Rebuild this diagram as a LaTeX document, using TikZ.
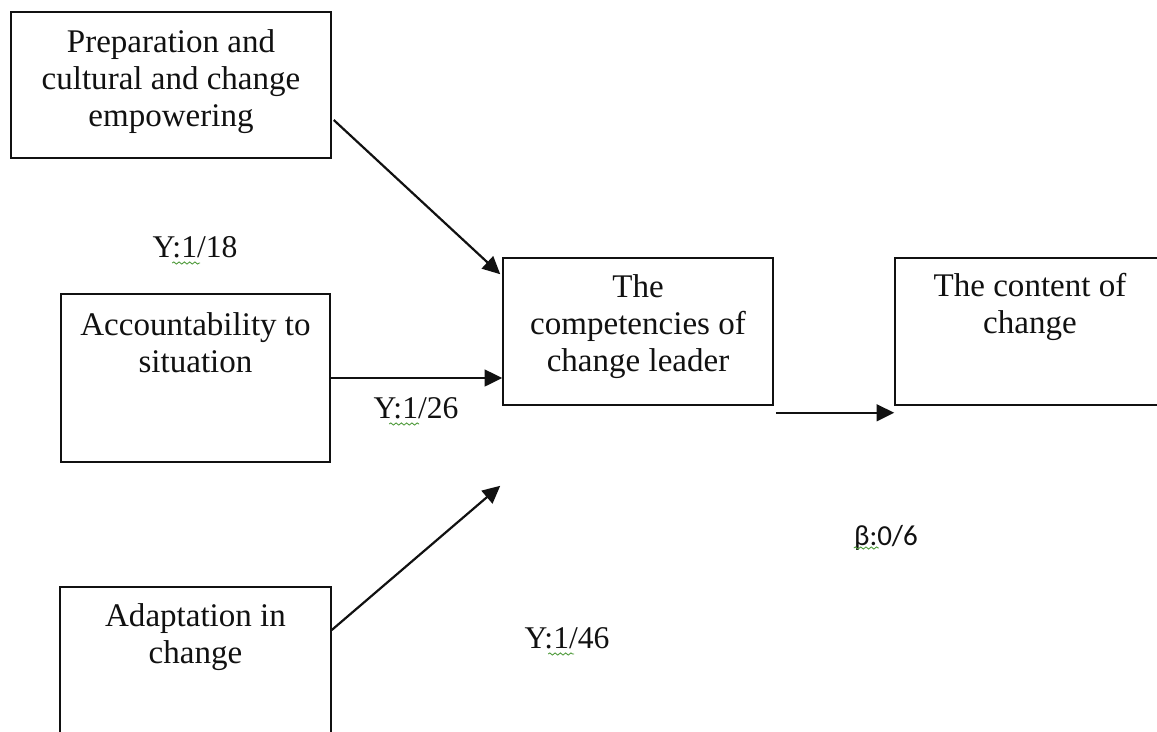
\documentclass[tikz,border=0pt]{standalone}
\usepackage{fontspec}
\setmainfont{Liberation Serif}
\newfontfamily\calibrifont{Carlito}
\usetikzlibrary{arrows.meta,positioning,calc,decorations.pathmorphing}
\definecolor{Ink}{HTML}{111111}
\definecolor{Squiggle}{HTML}{4E9A3A}
\tikzset{
  box/.style={draw=Ink, line width=0.9pt, fill=white, inner sep=0pt},
  boxtext/.style={text=Ink, align=center, inner sep=0pt, font=\fontsize{18.8}{21}\selectfont},
  lbl/.style={text=Ink, inner sep=0pt, anchor=base, font=\fontsize{18}{21}\selectfont},
  arr/.style={-{Triangle[length=10pt,width=9.5pt]}, line width=1.25pt, draw=Ink},
  wavy/.style={draw=Squiggle, line width=0.5pt, decorate, decoration={snake, amplitude=0.6pt, segment length=3pt}}
}

\begin{document}
\begin{tikzpicture}[x=0.02cm,y=-0.02cm]
\useasboundingbox (0,0) rectangle (1157,731);
\clip (0,0) rectangle (1157,731);
\fill[white] (0,0) rectangle (1157,731);

\node[box, minimum width=6.4cm, minimum height=2.92cm] (prep) at (171,85) {};
\node[boxtext, below=0.36cm of prep.north] (prepText) {Preparation and\\cultural and change\\empowering};

\node[box, minimum width=5.38cm, minimum height=3.36cm] (acc) at (195.5,378) {};
\node[boxtext, below=0.38cm of acc.north] (accText) {Accountability to\\situation};

\node[box, minimum width=5.42cm, minimum height=3.36cm] (adapt) at (195.5,671) {};
\node[boxtext, below=0.34cm of adapt.north] (adaptText) {Adaptation in\\change};

\node[box, minimum width=5.4cm, minimum height=2.94cm] (leader) at (638,331.5) {};
\node[boxtext, below=0.34cm of leader.north] (leaderText) {The\\competencies of\\change leader};

\node[box, minimum width=5.4cm, minimum height=2.94cm] (content) at (1030,331.5) {};
\node[boxtext, below=0.32cm of content.north] (contentText) {The content of\\change};

\draw[arr] ($(prep.east)+(2,35)$) -- ($(leader.north west)+(-2,17)$);
\draw[arr] (acc.east) -- (acc.east -| leader.west);
\draw[arr] ($(adapt.east)+(0,-41)$) -- ($(leader.south west)+(-2,80)$);
\draw[arr] ($(leader.south east)+(2,7)$) -- ($(content.south west)+(0,7)$);

\node[lbl] (y18) at (195,257) {Y:1/18};
\node[lbl] (y26) at (416,418) {Y:1/26};
\node[lbl] (y46) at (567,648) {Y:1/46};
\node[lbl, font=\calibrifont\fontsize{16.5}{20}\selectfont] (beta) at (886,545) {β:0/6};

\draw[wavy] ($(y18.base west)+(20,6)$) -- +(28,0);
\draw[wavy] ($(y26.base west)+(16,6)$) -- +(30,0);
\draw[wavy] ($(y46.base west)+(24,6)$) -- +(26,0);
\draw[wavy] ($(beta.base west)+(0,3)$) -- +(25,0);
\end{tikzpicture}
\end{document}
